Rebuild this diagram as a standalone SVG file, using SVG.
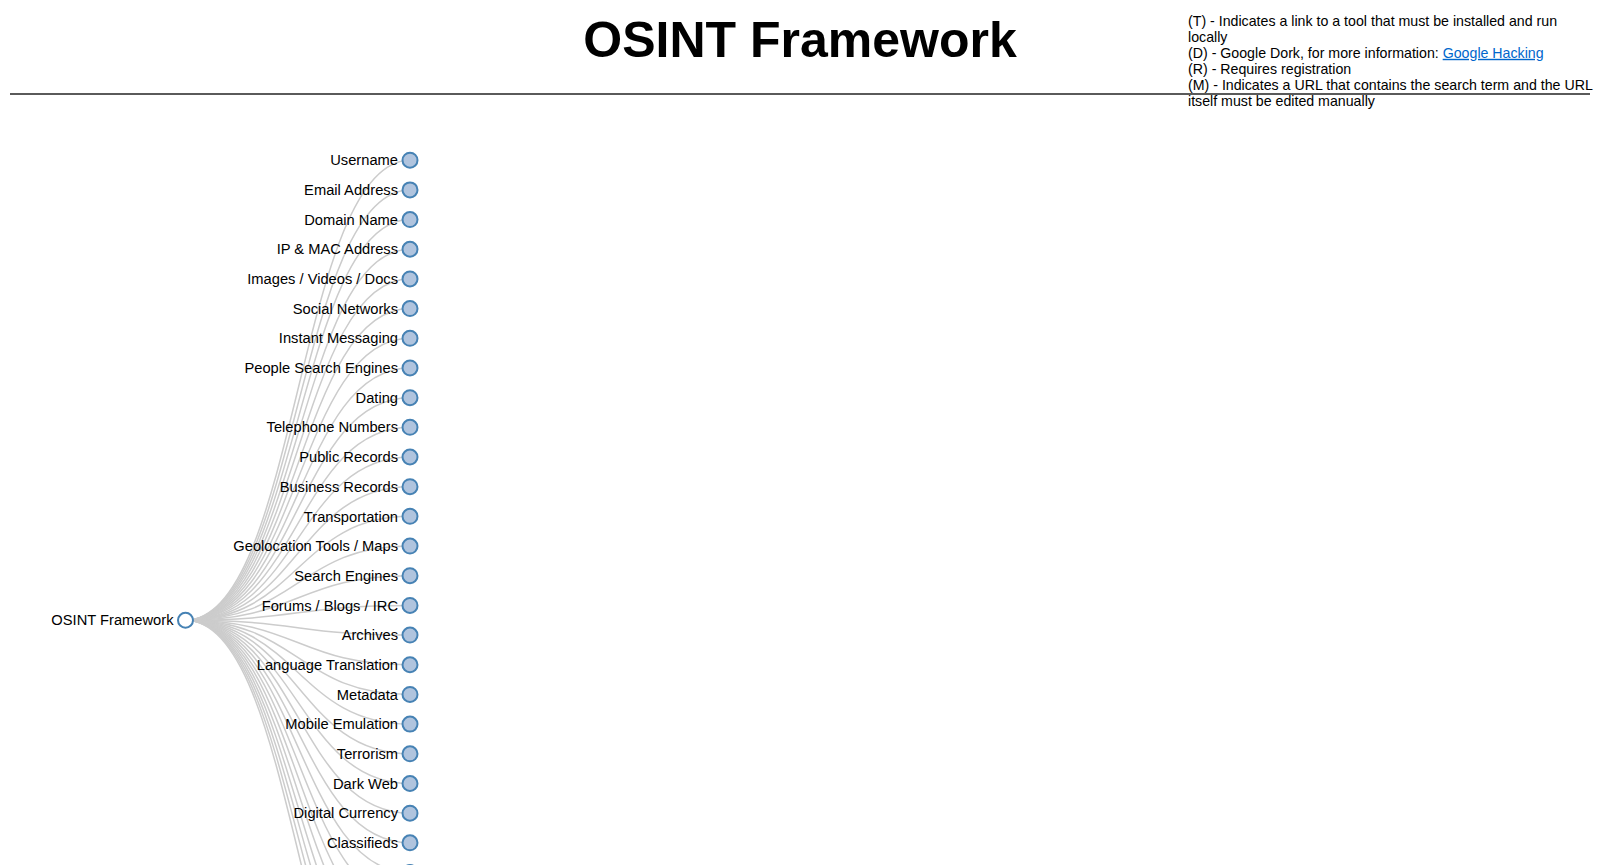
<svg xmlns="http://www.w3.org/2000/svg" width="1600" height="865" viewBox="0 0 1600 865">
<style>
text{font-family:"Liberation Sans",Arial,sans-serif;fill:#000}
.title{font-size:50px;font-weight:bold}
.legend{font-size:14.2px}
.link-a{fill:#0066cc;text-decoration:underline}
.lbl{font-size:14.7px;text-anchor:end}
.node circle{fill:#b0c4de;stroke:#4682b4;stroke-width:2}
#root circle{fill:#fff}
#links path{fill:none;stroke:#ccc;stroke-width:1.5}
</style>
<rect width="1600" height="865" fill="#fff"/>
<text class="title" x="800" y="57" text-anchor="middle">OSINT Framework</text>
<line x1="10" y1="94" x2="1590" y2="94" stroke="#5a5a5a" stroke-width="2"/>
<g id="legend" class="legend">
<text x="1188" y="26">(T) - Indicates a link to a tool that must be installed and run</text>
<text x="1188" y="41.9">locally</text>
<text x="1188" y="57.8">(D) - Google Dork, for more information: <tspan class="link-a">Google Hacking</tspan></text>
<text x="1188" y="73.7">(R) - Requires registration</text>
<text x="1188" y="89.6">(M) - Indicates a URL that contains the search term and the URL</text>
<text x="1188" y="105.5">itself must be edited manually</text>
</g>
<g id="links">
<path d="M185.5,620.24C297.75,620.24 297.75,160.2 410,160.2"/>
<path d="M185.5,620.24C297.75,620.24 297.75,189.88 410,189.88"/>
<path d="M185.5,620.24C297.75,620.24 297.75,219.56 410,219.56"/>
<path d="M185.5,620.24C297.75,620.24 297.75,249.24 410,249.24"/>
<path d="M185.5,620.24C297.75,620.24 297.75,278.92 410,278.92"/>
<path d="M185.5,620.24C297.75,620.24 297.75,308.6 410,308.6"/>
<path d="M185.5,620.24C297.75,620.24 297.75,338.28 410,338.28"/>
<path d="M185.5,620.24C297.75,620.24 297.75,367.96 410,367.96"/>
<path d="M185.5,620.24C297.75,620.24 297.75,397.64 410,397.64"/>
<path d="M185.5,620.24C297.75,620.24 297.75,427.32 410,427.32"/>
<path d="M185.5,620.24C297.75,620.24 297.75,457 410,457"/>
<path d="M185.5,620.24C297.75,620.24 297.75,486.68 410,486.68"/>
<path d="M185.5,620.24C297.75,620.24 297.75,516.36 410,516.36"/>
<path d="M185.5,620.24C297.75,620.24 297.75,546.04 410,546.04"/>
<path d="M185.5,620.24C297.75,620.24 297.75,575.72 410,575.72"/>
<path d="M185.5,620.24C297.75,620.24 297.75,605.4 410,605.4"/>
<path d="M185.5,620.24C297.75,620.24 297.75,635.08 410,635.08"/>
<path d="M185.5,620.24C297.75,620.24 297.75,664.76 410,664.76"/>
<path d="M185.5,620.24C297.75,620.24 297.75,694.44 410,694.44"/>
<path d="M185.5,620.24C297.75,620.24 297.75,724.12 410,724.12"/>
<path d="M185.5,620.24C297.75,620.24 297.75,753.8 410,753.8"/>
<path d="M185.5,620.24C297.75,620.24 297.75,783.48 410,783.48"/>
<path d="M185.5,620.24C297.75,620.24 297.75,813.16 410,813.16"/>
<path d="M185.5,620.24C297.75,620.24 297.75,842.84 410,842.84"/>
<path d="M185.5,620.24C297.75,620.24 297.75,872.52 410,872.52"/>
<path d="M185.5,620.24C297.75,620.24 297.75,902.2 410,902.2"/>
<path d="M185.5,620.24C297.75,620.24 297.75,931.88 410,931.88"/>
<path d="M185.5,620.24C297.75,620.24 297.75,961.56 410,961.56"/>
<path d="M185.5,620.24C297.75,620.24 297.75,991.24 410,991.24"/>
<path d="M185.5,620.24C297.75,620.24 297.75,1020.92 410,1020.92"/>
<path d="M185.5,620.24C297.75,620.24 297.75,1050.6 410,1050.6"/>
<path d="M185.5,620.24C297.75,620.24 297.75,1080.28 410,1080.28"/>
</g>
<g id="root" class="node"><circle cx="185.5" cy="620.24" r="7.5"/><text class="lbl" x="173.5" y="625.3">OSINT Framework</text></g>
<g id="n-username" class="node"><circle cx="410" cy="160.2" r="7.5"/><text class="lbl" x="398" y="165.3">Username</text></g>
<g id="n-email" class="node"><circle cx="410" cy="189.88" r="7.5"/><text class="lbl" x="398" y="195">Email Address</text></g>
<g id="n-domain" class="node"><circle cx="410" cy="219.56" r="7.5"/><text class="lbl" x="398" y="224.7">Domain Name</text></g>
<g id="n-ip" class="node"><circle cx="410" cy="249.24" r="7.5"/><text class="lbl" x="398" y="254.3">IP &amp; MAC Address</text></g>
<g id="n-images" class="node"><circle cx="410" cy="278.92" r="7.5"/><text class="lbl" x="398" y="284">Images / Videos / Docs</text></g>
<g id="n-social" class="node"><circle cx="410" cy="308.6" r="7.5"/><text class="lbl" x="398" y="313.7">Social Networks</text></g>
<g id="n-im" class="node"><circle cx="410" cy="338.28" r="7.5"/><text class="lbl" x="398" y="343.4">Instant Messaging</text></g>
<g id="n-people" class="node"><circle cx="410" cy="367.96" r="7.5"/><text class="lbl" x="398" y="373.1">People Search Engines</text></g>
<g id="n-dating" class="node"><circle cx="410" cy="397.64" r="7.5"/><text class="lbl" x="398" y="402.7">Dating</text></g>
<g id="n-phone" class="node"><circle cx="410" cy="427.32" r="7.5"/><text class="lbl" x="398" y="432.4">Telephone Numbers</text></g>
<g id="n-public" class="node"><circle cx="410" cy="457" r="7.5"/><text class="lbl" x="398" y="462.1">Public Records</text></g>
<g id="n-business" class="node"><circle cx="410" cy="486.68" r="7.5"/><text class="lbl" x="398" y="491.8">Business Records</text></g>
<g id="n-transport" class="node"><circle cx="410" cy="516.36" r="7.5"/><text class="lbl" x="398" y="521.5">Transportation</text></g>
<g id="n-geo" class="node"><circle cx="410" cy="546.04" r="7.5"/><text class="lbl" x="398" y="551.1">Geolocation Tools / Maps</text></g>
<g id="n-search" class="node"><circle cx="410" cy="575.72" r="7.5"/><text class="lbl" x="398" y="580.8">Search Engines</text></g>
<g id="n-forums" class="node"><circle cx="410" cy="605.4" r="7.5"/><text class="lbl" x="398" y="610.5">Forums / Blogs / IRC</text></g>
<g id="n-archives" class="node"><circle cx="410" cy="635.08" r="7.5"/><text class="lbl" x="398" y="640.2">Archives</text></g>
<g id="n-language" class="node"><circle cx="410" cy="664.76" r="7.5"/><text class="lbl" x="398" y="669.9">Language Translation</text></g>
<g id="n-metadata" class="node"><circle cx="410" cy="694.44" r="7.5"/><text class="lbl" x="398" y="699.5">Metadata</text></g>
<g id="n-mobile" class="node"><circle cx="410" cy="724.12" r="7.5"/><text class="lbl" x="398" y="729.2">Mobile Emulation</text></g>
<g id="n-terrorism" class="node"><circle cx="410" cy="753.8" r="7.5"/><text class="lbl" x="398" y="758.9">Terrorism</text></g>
<g id="n-darkweb" class="node"><circle cx="410" cy="783.48" r="7.5"/><text class="lbl" x="398" y="788.6">Dark Web</text></g>
<g id="n-currency" class="node"><circle cx="410" cy="813.16" r="7.5"/><text class="lbl" x="398" y="818.3">Digital Currency</text></g>
<g id="n-classifieds" class="node"><circle cx="410" cy="842.84" r="7.5"/><text class="lbl" x="398" y="847.9">Classifieds</text></g>
<g id="n-next" class="node"><circle cx="410" cy="872.52" r="7.5"/></g>
</svg>
